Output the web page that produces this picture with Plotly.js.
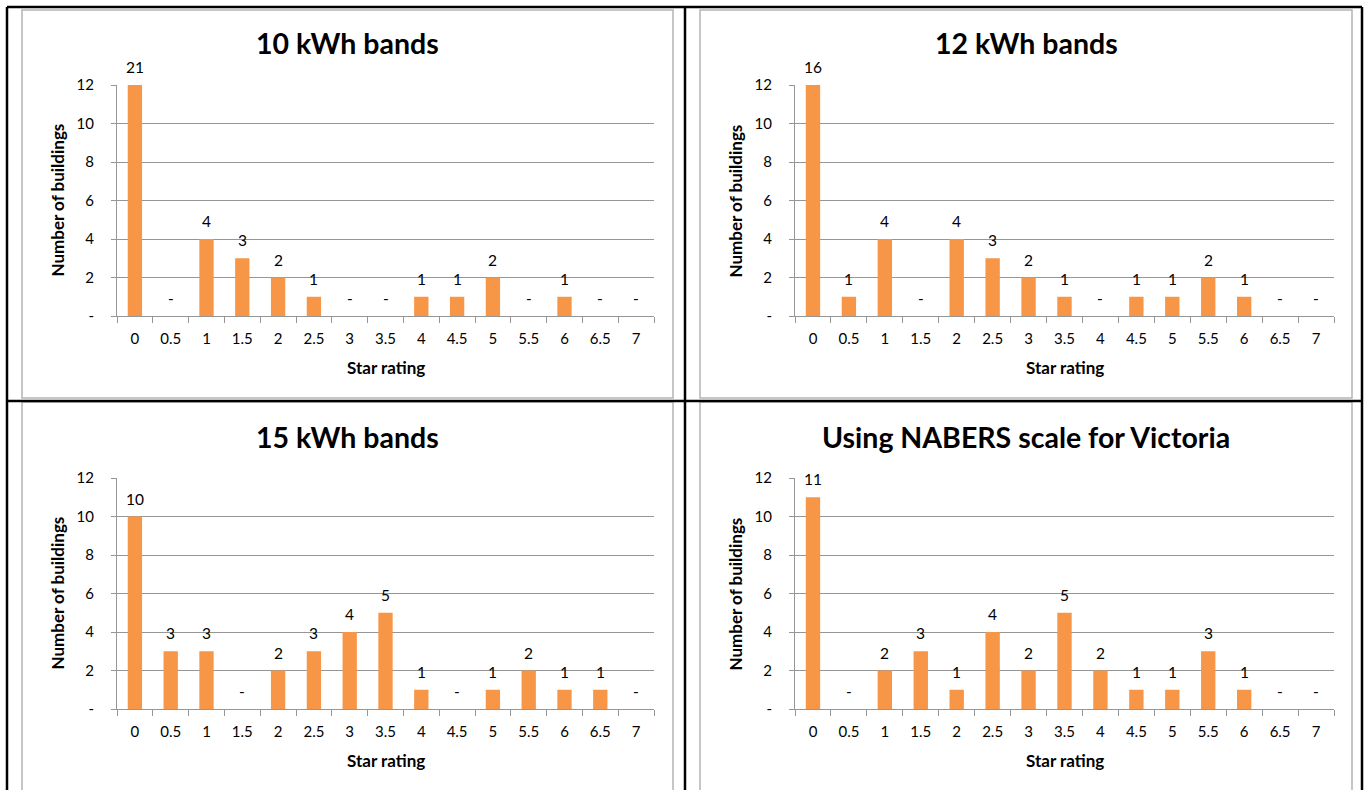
<!DOCTYPE html>
<html>
<head>
<meta charset="utf-8">
<script src="https://cdn.plot.ly/plotly-3.0.1.min.js"></script>
<style>
  html, body { margin: 0; padding: 0; background: #ffffff; }
  #chart { width: 1368px; height: 790px; }
</style>
</head>
<body>
<div id="chart"></div>
<script>
// ---- data ----
const starRatings = ['0','0.5','1','1.5','2','2.5','3','3.5','4','4.5','5','5.5','6','6.5','7'];
const titles = ['10 kWh bands', '12 kWh bands', '15 kWh bands', 'Using NABERS scale for Victoria'];
const bands10 = [21, 0, 4, 3, 2, 1, 0, 0, 1, 1, 2, 0, 1, 0, 0];
const bands12 = [16, 1, 4, 0, 4, 3, 2, 1, 0, 1, 1, 2, 1, 0, 0];
const bands15 = [10, 3, 3, 0, 2, 3, 4, 5, 1, 0, 1, 2, 1, 1, 0];
const nabersVic = [11, 0, 2, 3, 1, 4, 2, 5, 2, 1, 1, 3, 1, 0, 0];
const yTickVals = [0, 2, 4, 6, 8, 10, 12];
const yTickText = ['-', '2', '4', '6', '8', '10', '12'];
const xAxisTitle = 'Star rating';
const yAxisTitle = 'Number of buildings';

// ---- layout helpers ----
const W = 1368, H = 790;
const px = v => v / W;
const py = v => 1 - v / H;
const FONT = 'Lato, "Open Sans", sans-serif';
const ORANGE = '#F79646';
const GRID = '#969696';
const Y_MAX = 12;

const panels = [
  { vals: bands10,   title: titles[0], x0: 117, x1: 654,  y0: 85,  y1: 316, fx0: 22,  fx1: 673,  fy0: 10,  fy1: 398, ty: 43 },
  { vals: bands12,   title: titles[1], x0: 795, x1: 1334, y0: 85,  y1: 316, fx0: 700, fx1: 1352, fy0: 10,  fy1: 398, ty: 43 },
  { vals: bands15,   title: titles[2], x0: 117, x1: 654,  y0: 478, y1: 709, fx0: 22,  fx1: 673,  fy0: 402, fy1: 800, ty: 437 },
  { vals: nabersVic, title: titles[3], x0: 795, x1: 1334, y0: 478, y1: 709, fx0: 700, fx1: 1352, fy0: 402, fy1: 800, ty: 437 }
];

const traces = [];
const annotations = [];
const shapes = [];
const layout = {
  width: W, height: H,
  margin: { l: 0, r: 0, t: 0, b: 0 },
  paper_bgcolor: '#ffffff',
  plot_bgcolor: 'rgba(0,0,0,0)',
  showlegend: false,
  bargap: 0.6,
  font: { family: FONT, color: '#000000', size: 14 }
};

panels.forEach((p, i) => {
  const n = i === 0 ? '' : String(i + 1);
  const xa = 'x' + n, ya = 'y' + n;

  // chart frame (light grey)
  shapes.push({
    type: 'rect', xref: 'paper', yref: 'paper',
    x0: px(p.fx0), x1: px(p.fx1), y0: py(p.fy1), y1: py(p.fy0),
    line: { color: '#b4b4b4', width: 1.5 }, fillcolor: 'rgba(0,0,0,0)', layer: 'below'
  });

  traces.push({
    type: 'bar', x: starRatings, y: p.vals, xaxis: xa, yaxis: ya,
    marker: { color: ORANGE, line: { width: 0 } },
    hoverinfo: 'x+y', cliponaxis: true
  });

  layout['xaxis' + n] = {
    domain: [px(p.x0), px(p.x1)], anchor: ya,
    type: 'category', categoryorder: 'array', categoryarray: starRatings,
    range: [-0.5, starRatings.length - 0.5],
    showline: true, linecolor: GRID, linewidth: 1,
    ticks: 'outside', tickson: 'boundaries', ticklen: 6, tickcolor: GRID, tickwidth: 1,
    ticklabelstandoff: 9,
    showgrid: false, zeroline: false,
    tickfont: { family: FONT, size: 15, color: '#000' },
    fixedrange: true
  };
  layout['yaxis' + n] = {
    domain: [py(p.y1), py(p.y0)], anchor: xa,
    range: [0, Y_MAX],
    tickmode: 'array', tickvals: yTickVals, ticktext: yTickText,
    showline: true, linecolor: GRID, linewidth: 1,
    ticks: 'outside', ticklen: 5, tickcolor: GRID, tickwidth: 1,
    ticklabelstandoff: 14,
    showgrid: true, gridcolor: GRID, gridwidth: 1,
    zeroline: false,
    tickfont: { family: FONT, size: 15, color: '#000' },
    fixedrange: true
  };

  // data labels (x given as category index)
  p.vals.forEach((v, k) => {
    annotations.push({
      xref: xa, yref: ya, x: k, y: Math.min(v, Y_MAX),
      text: v === 0 ? '-' : String(v),
      showarrow: false, yanchor: 'bottom', xanchor: 'center', yshift: 7,
      font: { family: FONT, size: 15.5, color: '#000' }
    });
  });

  // chart title
  annotations.push({
    xref: 'paper', yref: 'paper',
    x: px((p.fx0 + p.fx1) / 2), y: py(p.ty),
    text: '<b>' + p.title + '</b>', showarrow: false,
    xanchor: 'center', yanchor: 'middle',
    font: { family: FONT, size: 28.5, color: '#000' }
  });
  // axis titles
  annotations.push({
    xref: 'paper', yref: 'paper',
    x: px((p.x0 + p.x1) / 2), y: py(p.y1 + 51),
    text: '<b>' + xAxisTitle + '</b>', showarrow: false,
    xanchor: 'center', yanchor: 'middle',
    font: { family: FONT, size: 17, color: '#000' }
  });
  annotations.push({
    xref: 'paper', yref: 'paper',
    x: px(p.x0 - 60), y: py((p.y0 + p.y1) / 2),
    text: '<b>' + yAxisTitle + '</b>', showarrow: false, textangle: -90,
    xanchor: 'center', yanchor: 'middle',
    font: { family: FONT, size: 17, color: '#000' }
  });
});

// table borders (black)
const black = { color: '#000000', width: 2.5 };
[
  [7, 7, 1362, 7],      // top
  [7, 7, 7, 800],       // left
  [1362, 7, 1362, 800], // right
  [685, 7, 685, 800],   // middle vertical
  [7, 401, 1362, 401]   // middle horizontal
].forEach(l => shapes.push({
  type: 'line', xref: 'paper', yref: 'paper',
  x0: px(l[0]), y0: py(l[1]), x1: px(l[2]), y1: py(l[3]), line: black
}));

layout.shapes = shapes;
layout.annotations = annotations;

Plotly.newPlot('chart', traces, layout, { displayModeBar: false, staticPlot: true });
</script>
</body>
</html>
